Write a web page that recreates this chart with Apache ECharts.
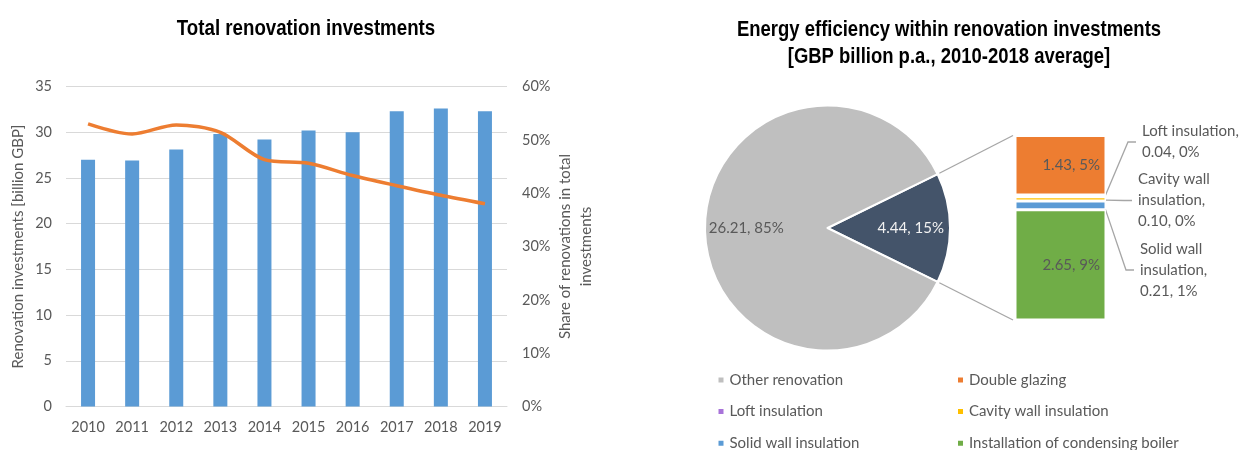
<!DOCTYPE html>
<html>
<head>
<meta charset="utf-8">
<script src="https://cdn.jsdelivr.net/npm/echarts@6/dist/echarts.min.js"></script>
<style>
  html, body { margin: 0; padding: 0; background: #fff; }
  #chart { width: 1246px; height: 450px; }
</style>
</head>
<body>
<div id="chart"></div>
<script>
// Left panel: yearly renovation investments and their share of total investments
const years = ['2010', '2011', '2012', '2013', '2014', '2015', '2016', '2017', '2018', '2019'];
const renovationInvestments = [27.0, 26.9, 28.1, 29.8, 29.2, 30.2, 30.0, 32.3, 32.6, 32.3];
const renovationShare = [53.0, 51.1, 52.8, 51.4, 46.3, 45.6, 43.3, 41.4, 39.6, 38.0];

// Right panel: pie of renovation investments, with the energy-efficiency slice split out
const pieNames = ['Energy efficiency', 'Other renovation'];
const pieValues = [4.44, 26.21];
const pieShares = [15, 85];

// Energy-efficiency components, stacked bottom to top
const partNames = ['Installation of condensing boiler', 'Solid wall insulation', 'Cavity wall insulation', 'Loft insulation', 'Double glazing'];
const partValues = [2.65, 0.21, 0.10, 0.04, 1.43];
const partShares = [9, 1, 0, 0, 5];

// Panel titles
const leftTitle = 'Total renovation investments';
const rightTitle = ['Energy efficiency within renovation investments', '[GBP billion p.a., 2010-2018 average]'];

const FONT = 'Lato, "Noto Sans", sans-serif';
const TITLE_FONT = '"Liberation Sans", Arial, sans-serif';
const GREY_TEXT = '#595959';

const PIE = { cx: 827.5, cy: 228, r: 122.5 };
const BOX = { left: 1015, top: 135.5, width: 91, height: 184.5 };

const partColors = {
  'Installation of condensing boiler': '#70AD47',
  'Solid wall insulation': '#5B9BD5',
  'Cavity wall insulation': '#FFC000',
  'Loft insulation': '#A873D9',
  'Double glazing': '#ED7D31'
};

// Where the small components' callouts sit (to the right of the stacked bar)
const calloutPos = {
  'Loft insulation': { x: 1136, y: 142 },
  'Cavity wall insulation': { x: 1132, y: 200.5 },
  'Solid wall insulation': { x: 1134, y: 270 }
};
const calloutText = {
  'Loft insulation': 'Loft insulation,',
  'Cavity wall insulation': 'Cavity wall\ninsulation,',
  'Solid wall insulation': 'Solid wall\ninsulation,'
};

const partTotal = partValues.reduce((a, b) => a + b, 0);
const pieTotal = pieValues.reduce((a, b) => a + b, 0);

const partSeries = partNames.map((name, i) => {
  const big = !calloutPos[name];
  const s = {
    name: name,
    type: 'bar',
    stack: 'ee',
    xAxisIndex: 1,
    yAxisIndex: 2,
    barWidth: '100%',
    data: [partValues[i]],
    itemStyle: { color: partColors[name], borderColor: '#fff', borderWidth: 1.5 },
    silent: true,
    label: {
      show: true,
      fontFamily: FONT,
      fontSize: 15,
      color: GREY_TEXT,
      formatter: () => big
        ? partValues[i].toFixed(2) + ', ' + partShares[i] + '%'
        : calloutText[name] + '\n' + partValues[i].toFixed(2) + ', ' + partShares[i] + '%'
    }
  };
  if (big) {
    s.label.position = 'insideRight';
    s.label.distance = 6;
  } else {
    s.label.position = 'right';
    s.label.lineHeight = 21;
    s.label.align = 'left';
    s.label.padding = [0, 0, 0, 6];
    s.labelLayout = { x: calloutPos[name].x, y: calloutPos[name].y, align: 'left', verticalAlign: 'middle' };
    s.labelLine = { show: true, length2: 8, lineStyle: { color: '#a6a6a6', width: 1.3 } };
  }
  return s;
});

// Connector lines from the split-out slice to the stacked bar
const half = Math.PI * pieValues[0] / pieTotal;
const R = PIE.r + 2;
const connectors = [
  [PIE.cx + R * Math.cos(half), PIE.cy - R * Math.sin(half), BOX.left - 2, BOX.top],
  [PIE.cx + R * Math.cos(half), PIE.cy + R * Math.sin(half), BOX.left - 2, BOX.top + BOX.height]
].map(p => ({
  type: 'line',
  silent: true,
  shape: { x1: p[0], y1: p[1], x2: p[2], y2: p[3] },
  style: { stroke: '#a6a6a6', lineWidth: 1.3 }
}));

// Condensed bold titles (horizontally compressed bold sans)
const titleStyle = { fontFamily: TITLE_FONT, fontWeight: 'bold', fontSize: 22, fill: '#000', textAlign: 'center', textVerticalAlign: 'middle' };
const titles = [
  { type: 'text', x: 306, y: 29, scaleX: 0.85, silent: true, style: Object.assign({ text: leftTitle }, titleStyle) },
  { type: 'text', x: 949, y: 30, scaleX: 0.84, silent: true, style: Object.assign({ text: rightTitle[0] }, titleStyle) },
  { type: 'text', x: 949, y: 56.5, scaleX: 0.84, silent: true, style: Object.assign({ text: rightTitle[1] }, titleStyle) }
];

const axisLabelStyle = { fontFamily: FONT, fontSize: 14.5, color: GREY_TEXT };
const legendBase = {
  orient: 'vertical', top: 372.5, height: 110, padding: 0, itemWidth: 7, itemHeight: 7, itemGap: 16.6,
  icon: 'rect', selectedMode: false,
  textStyle: { fontFamily: FONT, fontSize: 15, color: GREY_TEXT, lineHeight: 14 }
};

const option = {
  animation: false,
  backgroundColor: '#fff',
  legend: [
    Object.assign({ left: 716.5, data: ['Other renovation', 'Loft insulation', 'Solid wall insulation'] }, legendBase),
    Object.assign({ left: 956, data: ['Double glazing', 'Cavity wall insulation', 'Installation of condensing boiler'] }, legendBase)
  ],
  grid: [
    { left: 66, right: 739, top: 86.5, height: 320 },
    { left: BOX.left, top: BOX.top, width: BOX.width, height: BOX.height }
  ],
  xAxis: [
    {
      type: 'category', gridIndex: 0, data: years,
      axisTick: { show: false },
      axisLine: { lineStyle: { color: '#d9d9d9', width: 1 } },
      axisLabel: Object.assign({ margin: 13 }, axisLabelStyle)
    },
    { type: 'category', gridIndex: 1, data: ['EE'], show: false }
  ],
  yAxis: [
    {
      type: 'value', gridIndex: 0, min: 0, max: 35, interval: 5,
      name: 'Renovation investments [billion GBP]',
      nameLocation: 'middle', nameGap: 40, nameRotate: 90,
      nameTextStyle: { fontFamily: FONT, fontSize: 15, color: GREY_TEXT },
      axisLine: { show: false }, axisTick: { show: false },
      axisLabel: Object.assign({ margin: 14 }, axisLabelStyle),
      splitLine: { lineStyle: { color: '#d9d9d9', width: 1 } }
    },
    {
      type: 'value', gridIndex: 0, min: 0, max: 60, interval: 10, position: 'right',
      name: 'Share of renovations in total\ninvestments',
      nameLocation: 'middle', nameGap: 47, nameRotate: 90,
      nameTextStyle: { fontFamily: FONT, fontSize: 15, color: GREY_TEXT, lineHeight: 21 },
      axisLine: { show: false }, axisTick: { show: false },
      axisLabel: Object.assign({ margin: 15, formatter: '{value}%' }, axisLabelStyle),
      splitLine: { show: false }
    },
    { type: 'value', gridIndex: 1, min: 0, max: partTotal, show: false }
  ],
  series: [
    {
      name: 'Renovation investments',
      type: 'bar', xAxisIndex: 0, yAxisIndex: 0,
      barWidth: 14, data: renovationInvestments,
      itemStyle: { color: '#5B9BD5' }, silent: true
    },
    {
      name: 'Share of renovations',
      type: 'line', xAxisIndex: 0, yAxisIndex: 1,
      data: renovationShare, smooth: 0.3, symbol: 'none',
      lineStyle: { color: '#ED7D31', width: 3.5 }, silent: true, z: 5
    },
    {
      name: 'Renovation split',
      type: 'pie',
      center: [PIE.cx, PIE.cy], radius: PIE.r,
      startAngle: 180 * pieValues[0] / pieTotal, clockwise: true,
      silent: true,
      itemStyle: { borderColor: '#fff', borderWidth: 2 },
      label: {
        show: true, position: 'inside', fontFamily: FONT, fontSize: 15,
        formatter: p => pieValues[p.dataIndex].toFixed(2) + ', ' + pieShares[p.dataIndex] + '%'
      },
      labelLayout: p => ({ dx: p.dataIndex === 0 ? 19 : -17 }),
      data: pieNames.map((n, i) => ({
        name: n, value: pieValues[i],
        itemStyle: { color: i === 0 ? '#44546A' : '#BFBFBF' },
        label: { color: i === 0 ? '#F2F2F2' : GREY_TEXT }
      }))
    }
  ].concat(partSeries),
  graphic: connectors.concat(titles)
};

const chart = echarts.init(document.getElementById('chart'), null, { renderer: 'canvas' });
chart.setOption(option);
</script>
</body>
</html>
